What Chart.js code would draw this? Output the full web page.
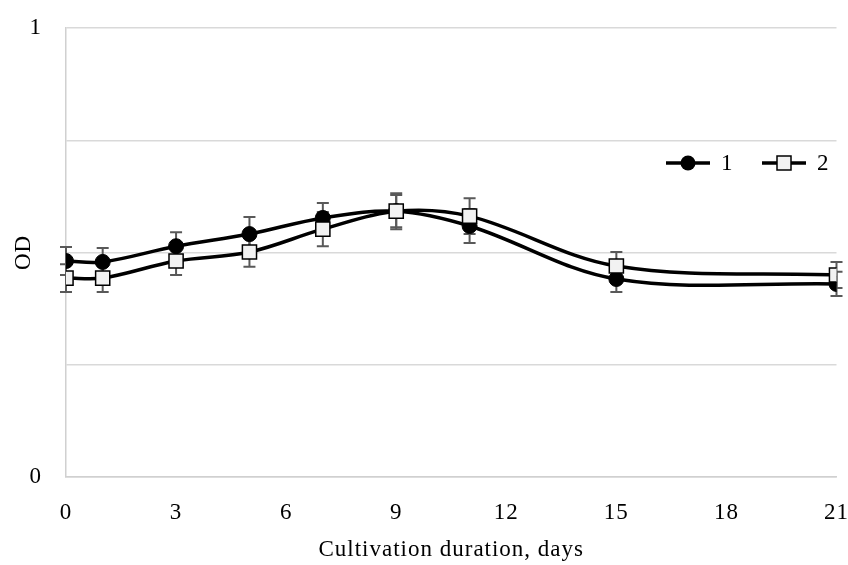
<!DOCTYPE html>
<html>
<head>
<meta charset="utf-8">
<script src="https://cdn.jsdelivr.net/npm/chart.js@4"></script>
<style>
  html, body { margin: 0; padding: 0; background: #fff; }
  #wrap { width: 848px; height: 565px; }
</style>
</head>
<body>
<div id="wrap"><canvas id="c" width="848" height="565"></canvas></div>
<script>
const days = [0, 1, 3, 5, 7, 9, 11, 15, 21];
const series1 = [0.481, 0.479, 0.514, 0.541, 0.577, 0.592, 0.559, 0.441, 0.430];
const series2 = [0.443, 0.443, 0.481, 0.501, 0.552, 0.592, 0.581, 0.470, 0.450];
const err1 = [0.031, 0.031, 0.031, 0.038, 0.033, 0.036, 0.038, 0.029, 0.027];
const err2 = [0.031, 0.031, 0.031, 0.033, 0.038, 0.040, 0.040, 0.031, 0.029];
const seriesNames = ['1', '2'];
const xTicks = [0, 3, 6, 9, 12, 15, 18, 21];
const yLabelled = [0, 1];

const FONT = 'Liberation Serif';
const FSIZE = 23;

const errs = [err1, err2];

const spacingPlugin = {
  id: 'spacing',
  beforeUpdate(chart) { chart.ctx.letterSpacing = '1px'; },
  beforeLayout(chart) { chart.ctx.letterSpacing = '1px'; },
  beforeDraw(chart) { chart.ctx.letterSpacing = '1px'; }
};

const errorBarPlugin = {
  id: 'errorBars',
  beforeDatasetsDraw(chart) {
    const ctx = chart.ctx;
    const xs = chart.scales.x, ys = chart.scales.y;
    ctx.save();
    ctx.strokeStyle = '#595959';
    ctx.lineWidth = 2;
    chart.data.datasets.forEach((ds, di) => {
      ds.data.forEach((p, i) => {
        const e = errs[di][i];
        const x = xs.getPixelForValue(p.x);
        const yt = ys.getPixelForValue(p.y + e);
        const yb = ys.getPixelForValue(p.y - e);
        ctx.beginPath();
        ctx.moveTo(x, yt); ctx.lineTo(x, yb);
        ctx.moveTo(x - 6, yt); ctx.lineTo(x + 6, yt);
        ctx.moveTo(x - 6, yb); ctx.lineTo(x + 6, yb);
        ctx.stroke();
      });
    });
    ctx.restore();
  }
};

const legendPlugin = {
  id: 'customLegend',
  afterDraw(chart) {
    const ctx = chart.ctx;
    ctx.save();
    const y = 163;
    const items = [
      { x0: 666, style: 'circle', label: seriesNames[0] },
      { x0: 762, style: 'rect', label: seriesNames[1] }
    ];
    items.forEach(it => {
      ctx.strokeStyle = '#000';
      ctx.lineWidth = 3.5;
      ctx.beginPath();
      ctx.moveTo(it.x0, y); ctx.lineTo(it.x0 + 44, y);
      ctx.stroke();
      const cx = it.x0 + 22;
      if (it.style === 'circle') {
        ctx.fillStyle = '#000';
        ctx.beginPath(); ctx.arc(cx, y, 7.5, 0, Math.PI * 2); ctx.fill();
      } else {
        ctx.fillStyle = '#f2f2f2';
        ctx.lineWidth = 1.5;
        ctx.fillRect(cx - 7, y - 7, 14, 14);
        ctx.strokeRect(cx - 7, y - 7, 14, 14);
      }
      ctx.fillStyle = '#000';
      ctx.font = FSIZE + 'px "' + FONT + '"';
      ctx.textBaseline = 'middle';
      ctx.textAlign = 'left';
      ctx.fillText(it.label, it.x0 + 55, y + 1);
    });
    ctx.restore();
  }
};

const toPts = (arr) => arr.map((v, i) => ({ x: days[i], y: v }));

new Chart(document.getElementById('c'), {
  type: 'line',
  data: {
    datasets: [
      {
        label: seriesNames[0],
        data: toPts(series1),
        borderColor: '#000',
        borderWidth: 3.5,
        pointStyle: 'circle',
        pointRadius: 7.5,
        pointBackgroundColor: '#000',
        pointBorderColor: '#000',
        pointBorderWidth: 1,
        tension: 0.35,
        order: 1
      },
      {
        label: seriesNames[1],
        data: toPts(series2),
        borderColor: '#000',
        borderWidth: 3.5,
        pointStyle: 'rect',
        pointRadius: 10,
        pointBackgroundColor: '#f2f2f2',
        pointBorderColor: '#000',
        pointBorderWidth: 1.5,
        tension: 0.35,
        order: 0
      }
    ]
  },
  options: {
    responsive: false,
    animation: false,
    layout: { padding: { left: 0, top: 28, right: 10, bottom: 0 } },
    plugins: { legend: { display: false }, tooltip: { enabled: false } },
    scales: {
      x: {
        type: 'linear',
        min: 0, max: 21,
        afterBuildTicks: (s) => { s.ticks = xTicks.map(v => ({ value: v })); },
        afterFit: (s) => { s.height = 88; s.paddingLeft = 0; s.paddingRight = 0; },
        grid: { display: false, drawTicks: false },
        border: { display: true, color: '#d0d0d0', width: 1.5 },
        ticks: { color: '#000', font: { family: FONT, size: FSIZE }, padding: 22, maxRotation: 0 },
        title: { display: true, text: 'Cultivation duration, days', color: '#000', font: { family: FONT, size: FSIZE }, padding: { top: 10, bottom: 1 } }
      },
      y: {
        min: 0, max: 1,
        ticks: {
          stepSize: 0.25,
          color: '#000',
          font: { family: FONT, size: FSIZE },
          padding: 24,
          callback: (v) => yLabelled.includes(v) ? String(v) : ''
        },
        afterFit: (s) => { s.width = 66; s.paddingTop = 0; s.paddingBottom = 0; },
        grid: { color: '#d9d9d9', lineWidth: 1.5, drawTicks: false },
        border: { display: true, color: '#d0d0d0', width: 1.5 },
        title: { display: true, text: 'OD', color: '#000', font: { family: FONT, size: FSIZE }, padding: { top: 10, bottom: 0 } }
      }
    }
  },
  plugins: [spacingPlugin, errorBarPlugin, legendPlugin]
});
</script>
</body>
</html>
